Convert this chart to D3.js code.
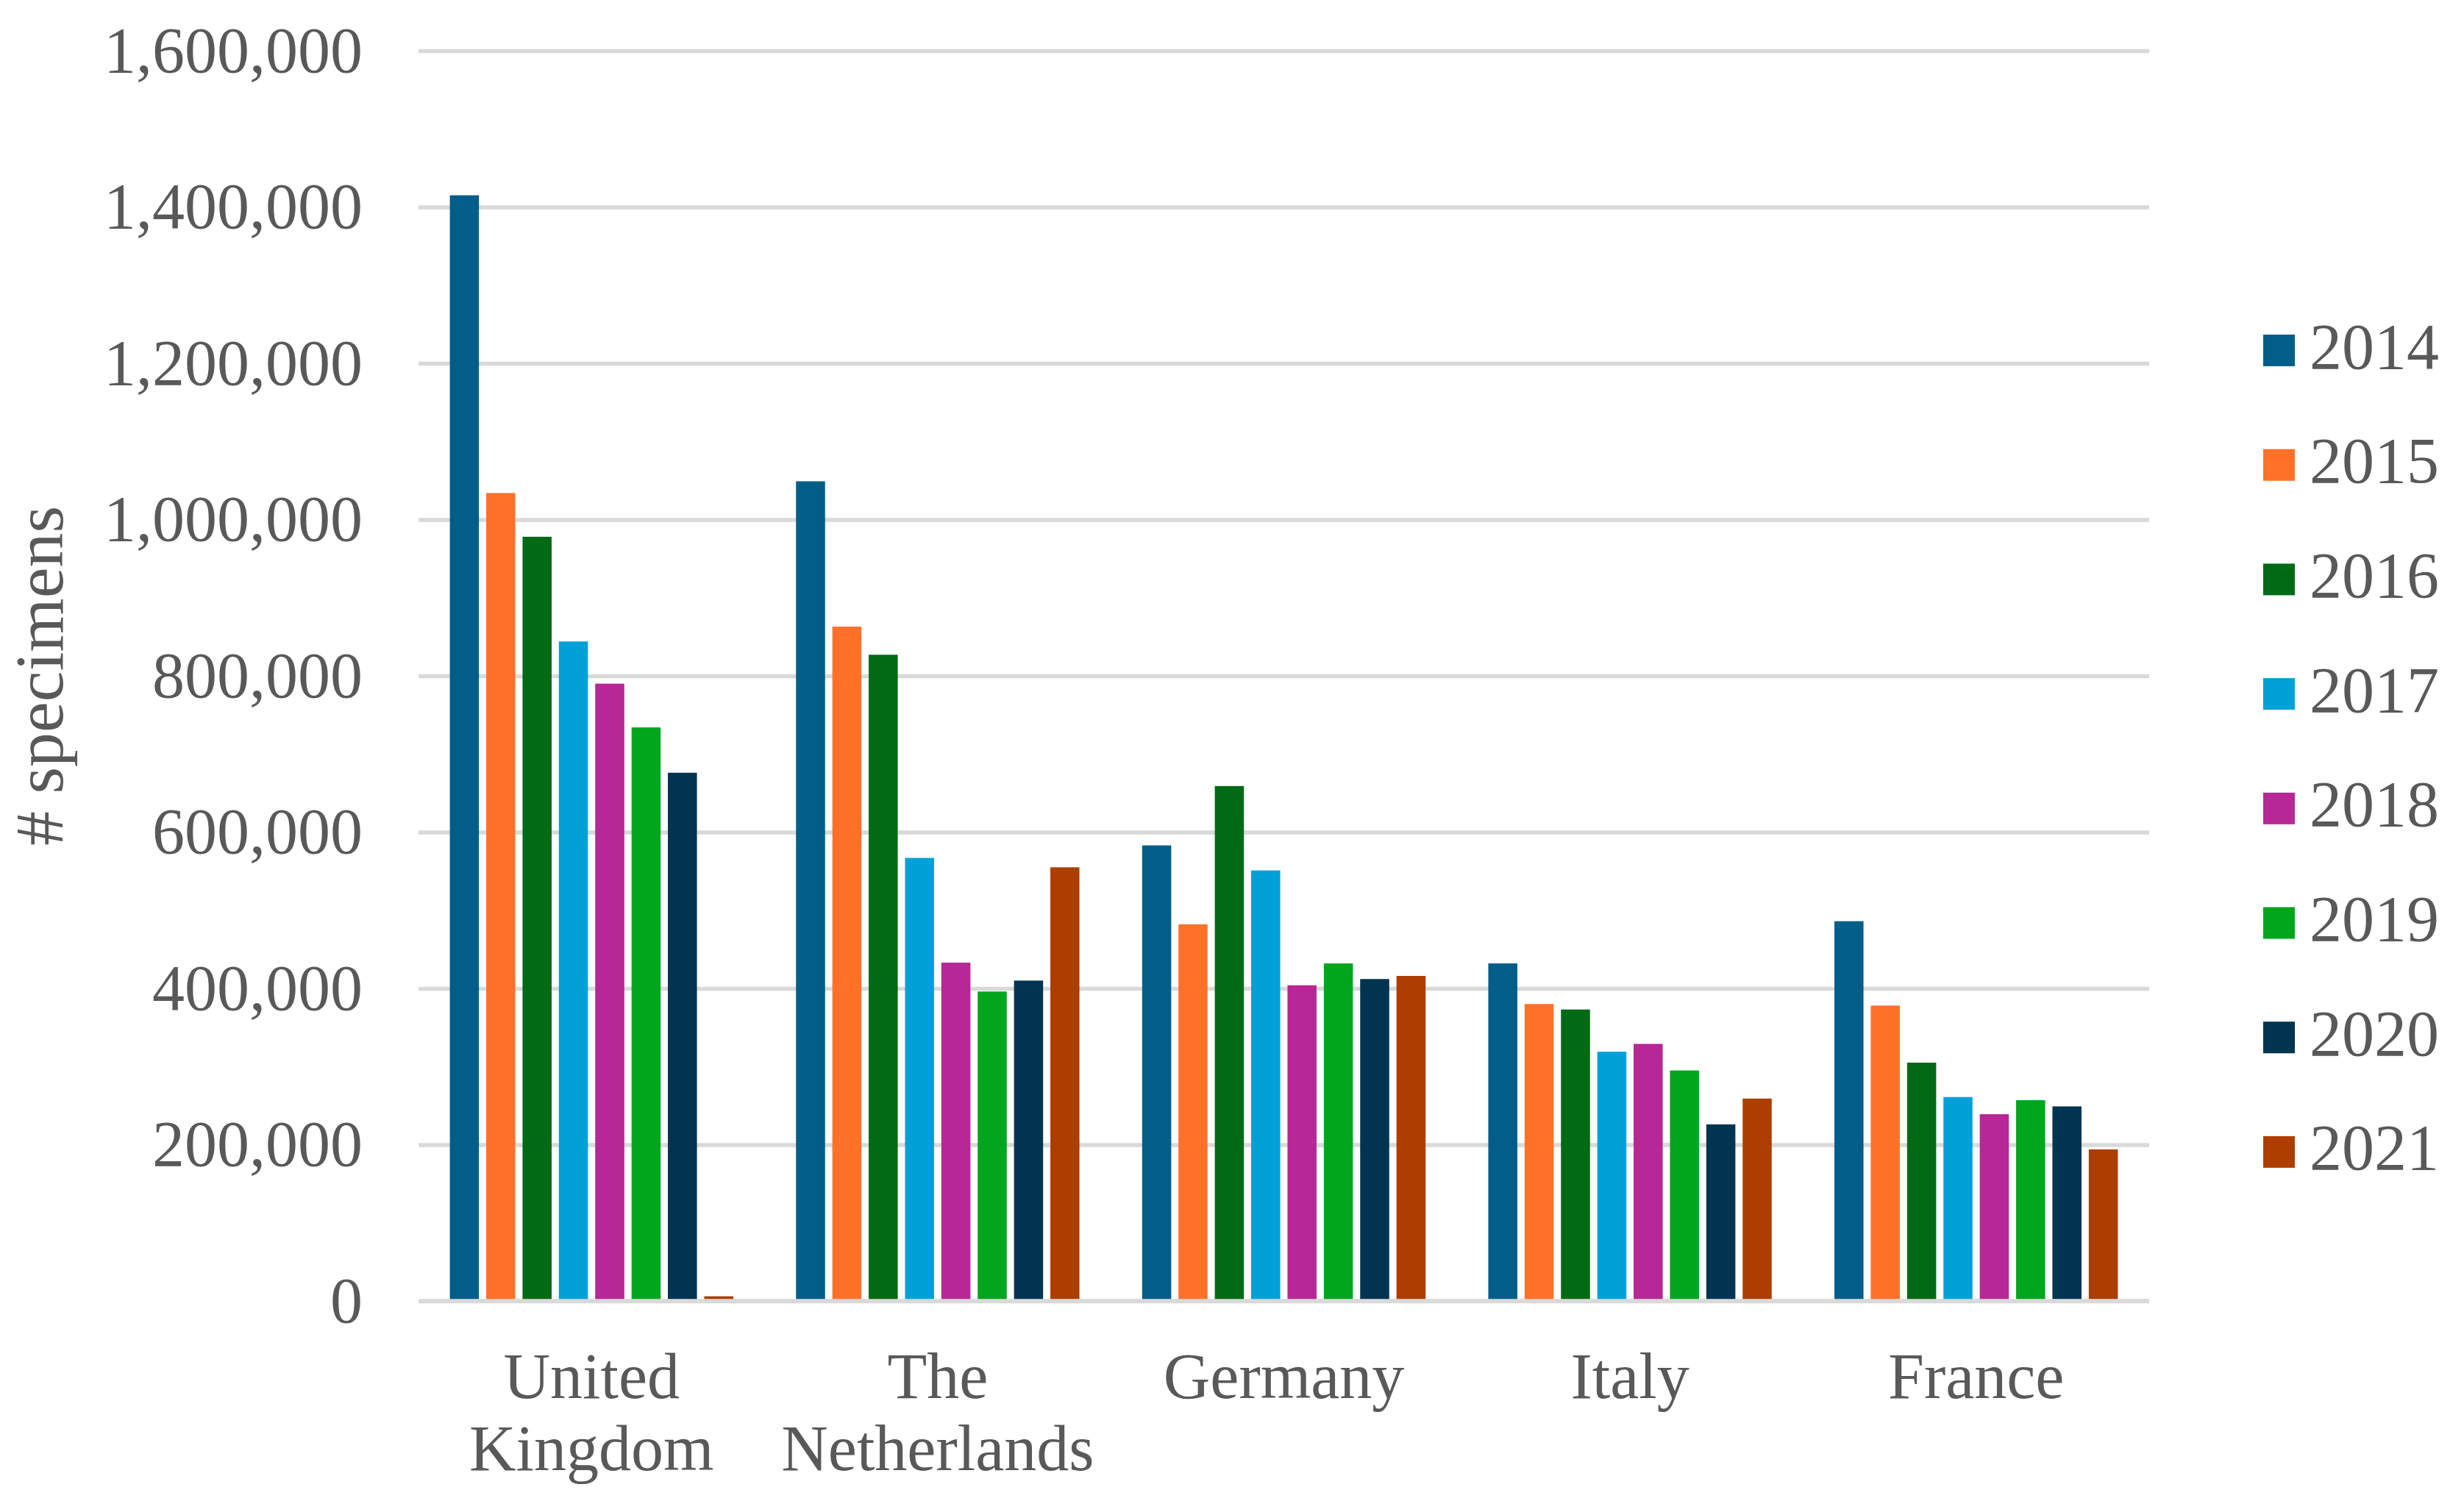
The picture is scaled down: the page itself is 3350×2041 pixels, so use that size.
<!DOCTYPE html>
<html>
<head>
<meta charset="utf-8">
<script src="https://cdn.jsdelivr.net/npm/d3@7/dist/d3.min.js"></script>
<style>
  html, body { margin: 0; padding: 0; background: #ffffff; }
  svg { display: block; }
</style>
</head>
<body>
<svg id="chart" width="3350" height="2041"></svg>
<script>
// ---- data ----
const countries = ["United Kingdom", "The Netherlands", "Germany", "Italy", "France"];
const countryLines = [["United", "Kingdom"], ["The", "Netherlands"], ["Germany"], ["Italy"], ["France"]];
const years = ["2014", "2015", "2016", "2017", "2018", "2019", "2020", "2021"];
const v2014 = [1415000, 1049000, 583000, 432000, 486000];
const v2015 = [1034000, 863000, 482000, 380000, 378000];
const v2016 = [978000, 827000, 659000, 373000, 305000];
const v2017 = [844000, 567000, 551000, 319000, 261000];
const v2018 = [790000, 433000, 404000, 329000, 239000];
const v2019 = [734000, 396000, 432000, 295000, 257000];
const v2020 = [676000, 410000, 412000, 226000, 249000];
const v2021 = [6000, 555000, 416000, 259000, 194000];
const seriesValues = [v2014, v2015, v2016, v2017, v2018, v2019, v2020, v2021];
const yTicks = [0, 200000, 400000, 600000, 800000, 1000000, 1200000, 1400000, 1600000];
const colors = ["#005E88", "#FF7128", "#006A15", "#00A1D9", "#B72795", "#00A61C", "#003450", "#AE3D00"];
const yTitle = "# specimens";

(function () {
  // ---- layout ----
  const svg = d3.select("#chart");
  const plotLeft = 569, plotRight = 2922, plotTop = 69, plotBottom = 1769;
  const font = "'Liberation Serif', 'Times New Roman', serif";
  const textColor = "#595959";
  const gridColor = "#D9D9D9";

  const x0 = d3.scaleBand().domain(countries).range([plotLeft, plotRight]).paddingInner(0).paddingOuter(0);
  const x1 = d3.scaleBand().domain(years).range([0, x0.bandwidth()]).paddingInner(0.2).paddingOuter(0.863);
  const y = d3.scaleLinear().domain([0, 1600000]).range([plotBottom, plotTop]);

  // gridlines + tick labels
  const yAxis = d3.axisLeft(y)
    .tickValues(yTicks)
    .tickFormat(d3.format(","))
    .tickSizeInner(-(plotRight - plotLeft))
    .tickSizeOuter(0)
    .tickPadding(76);

  const gAxis = svg.append("g").attr("transform", `translate(${plotLeft},0)`).call(yAxis);
  gAxis.select(".domain").remove();
  gAxis.selectAll(".tick line").attr("stroke", gridColor).attr("stroke-width", 5.5);
  gAxis.selectAll(".tick text")
    .attr("fill", textColor)
    .attr("font-family", font)
    .attr("font-size", 88)
    .attr("dy", "0.32em");

  // bars
  const data = [];
  countries.forEach((c, ci) => {
    years.forEach((yr, si) => {
      data.push({ country: c, year: yr, value: seriesValues[si][ci], color: colors[si] });
    });
  });

  svg.append("g").selectAll("rect").data(data).join("rect")
    .attr("x", d => x0(d.country) + x1(d.year))
    .attr("y", d => y(d.value))
    .attr("width", x1.bandwidth())
    .attr("height", d => y(0) - y(d.value))
    .attr("fill", d => d.color);

  // zero line on top
  svg.append("line")
    .attr("x1", plotLeft).attr("x2", plotRight)
    .attr("y1", y(0)).attr("y2", y(0))
    .attr("stroke", gridColor).attr("stroke-width", 5.5);

  // category labels
  const gx = svg.append("g");
  countries.forEach((c, ci) => {
    const cx = x0(c) + x0.bandwidth() / 2;
    const t = gx.append("text")
      .attr("x", cx)
      .attr("y", 1901)
      .attr("text-anchor", "middle")
      .attr("fill", textColor)
      .attr("font-family", font)
      .attr("font-size", 88);
    countryLines[ci].forEach((line, li) => {
      t.append("tspan")
        .attr("x", cx)
        .attr("dy", li === 0 ? 0 : 97.5)
        .text(line);
    });
  });

  // y title
  svg.append("text")
    .attr("transform", `translate(85, ${(plotTop + plotBottom) / 2}) rotate(-90)`)
    .attr("text-anchor", "middle")
    .attr("fill", textColor)
    .attr("font-family", font)
    .attr("font-size", 94)
    .text(yTitle);

  // legend
  const legendY = d3.scalePoint().domain(years).range([476.5, 476.5 + 7 * 155.7]);
  const lg = svg.append("g");
  years.forEach((yr, i) => {
    lg.append("rect")
      .attr("x", 3077)
      .attr("y", legendY(yr) - 21.5)
      .attr("width", 43)
      .attr("height", 43)
      .attr("fill", colors[i]);
    lg.append("text")
      .attr("x", 3140)
      .attr("y", legendY(yr) + 24)
      .attr("fill", textColor)
      .attr("font-family", font)
      .attr("font-size", 88)
      .text(yr);
  });
})();
</script>
</body>
</html>
